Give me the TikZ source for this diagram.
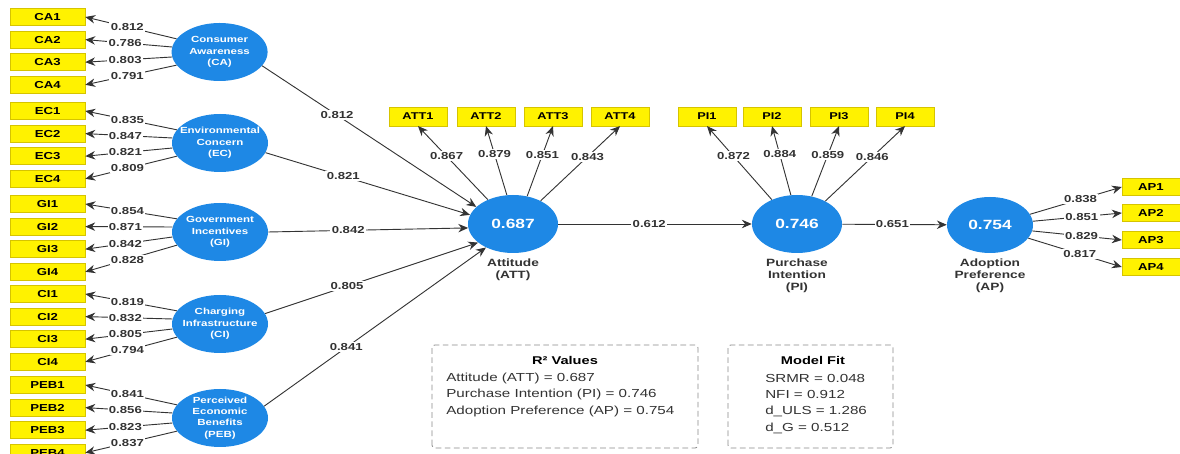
\documentclass[tikz,border=0pt]{standalone}
\usepackage{fontspec}
\setmainfont{Liberation Sans}[FakeStretch=1.3]
\usetikzlibrary{arrows.meta, positioning, shapes.geometric}
\definecolor{c1}{HTML}{333333}
\definecolor{c2}{HTML}{1E88E5}
\definecolor{c3}{HTML}{FFF200}
\definecolor{c4}{HTML}{D6C400}
\definecolor{framecolor}{HTML}{8A8A8A}

\begin{document}
\begin{tikzpicture}[
    ind/.style={draw=c4, fill=c3, line width=0.3pt, minimum width=1.875cm, minimum height=0.425cm,
        inner sep=0pt, font=\bfseries\fontsize{7.2}{8}\selectfont},
    indtop/.style={ind, minimum width=1.45cm, minimum height=0.475cm, font=\bfseries\fontsize{7}{8}\selectfont},
    apbox/.style={ind, minimum width=1.45cm},
    con/.style={ellipse, fill=c2, minimum width=2.4cm, minimum height=1.45cm, inner sep=0pt},
    ctext/.style={text=white, align=center, inner sep=0pt, font=\bfseries\fontsize{6.3}{8.1}\selectfont},
    endo/.style={ellipse, fill=c2, minimum width=2.25cm, minimum height=1.45cm, inner sep=0pt,
        text=white, font=\bfseries\fontsize{9.5}{11}\selectfont},
    conlab/.style={text=c1, align=center, inner sep=0pt, font=\bfseries\fontsize{7.5}{8.5}\selectfont},
    load/.style={draw=c1, line width=0.65pt, -{Stealth[length=7pt, width=6pt]}},
    val/.style={fill=white, inner sep=1pt, text=c1, font=\bfseries\fontsize{7.2}{8}\selectfont},
    boxhead/.style={text=black, inner sep=0pt, font=\bfseries\fontsize{8}{9}\selectfont},
    boxline/.style={text=c1, anchor=west, inner sep=0pt, font=\fontsize{8.3}{9.6}\selectfont},
    frame/.style={draw=framecolor, line width=0.6pt, dash pattern=on 4pt off 2.5pt, rounded corners=2pt},
]
\useasboundingbox (0, 0) rectangle (29.5, 11.35);
\fill[white] (0, 0) rectangle (29.5, 11.35);

% ---------------------------------------------------------------- exogenous constructs
\node[con, label={[ctext]center:Consumer\\Awareness\\(CA)}] (CA) at (5.49, 10.05) {};
\node[con, label={[ctext]center:Environmental\\Concern\\(EC)}] (EC) at (5.50, 7.775) {};
\node[con, label={[ctext]center:Government\\Incentives\\(GI)}] (GI) at (5.50, 5.55) {};
\node[con, label={[ctext]center:Charging\\Infrastructure\\(CI)}] (CI) at (5.50, 3.25) {};
\node[con, label={[ctext]center:Perceived\\Economic\\Benefits\\(PEB)}] (PEB) at (5.50, 0.90) {};

% indicator column
\foreach \g/\y in {CA/10.925, EC/8.575, GI/6.25, CI/4.00, PEB/1.725}{
    \foreach \i in {1,...,4}{
        \node[ind] (\g\i) at (1.19, {\y-(\i-1)*0.565}) {\g\i};
    }
}
\foreach \g/\la/\lb/\lc/\ld in {CA/0.812/0.786/0.803/0.791, EC/0.835/0.847/0.821/0.809,
        GI/0.854/0.871/0.842/0.828, CI/0.819/0.832/0.805/0.794, PEB/0.841/0.856/0.823/0.837}{
    \draw[load] (\g.163) -- node[val, pos=0.54] {\la} (\g1.east);
    \draw[load] (\g.174) -- node[val, pos=0.54] {\lb} (\g2.east);
    \draw[load] (\g.186) -- node[val, pos=0.54] {\lc} (\g3.east);
    \draw[load] (\g.197) -- node[val, pos=0.54] {\ld} (\g4.east);
}

% ---------------------------------------------------------------- endogenous constructs
\node[endo] (ATT) at (12.825, 5.75) {0.687};
\node[endo] (PI) at (19.925, 5.75) {0.746};
\node[endo, minimum width=2.15cm, minimum height=1.40cm] (AP) at (24.75, 5.725) {0.754};

\node[conlab, below=4pt of ATT] (ATTlab) {Attitude\\(ATT)};
\node[conlab, below=4pt of PI] (PIlab) {Purchase\\Intention\\(PI)};
\node[conlab, below=4pt of AP] (APlab) {Adoption\\Preference\\(AP)};

\foreach \n/\x in {1/10.45, 2/12.15, 3/13.825, 4/15.50}{
    \node[indtop] (ATT\n) at (\x, 8.44) {ATT\n};
}
\foreach \n/\x in {1/17.675, 2/19.30, 3/20.975, 4/22.625}{
    \node[indtop] (PI\n) at (\x, 8.44) {PI\n};
}
\foreach \n/\y in {1/6.675, 2/6.025, 3/5.35, 4/4.675}{
    \node[apbox] (AP\n) at (28.775, \y) {AP\n};
}

\foreach \n/\a/\v in {1/136/0.867, 2/102/0.879, 3/63/0.851, 4/40/0.843}{
    \draw[load] (ATT.\a) -- node[val, pos=0.59] {\v} (ATT\n.south);
}
\foreach \n/\a/\v in {1/136/0.872, 2/102/0.884, 3/62/0.859, 4/39/0.846}{
    \draw[load] (PI.\a) -- node[val, pos=0.59] {\v} (PI\n.south);
}
\foreach \n/\a/\v in {1/15/0.838, 2/5/0.851, 3/-8/0.829, 4/-19/0.817}{
    \draw[load] (AP.\a) -- node[val, pos=0.55] {\v} (AP\n.west);
}

% ---------------------------------------------------------------- structural paths
\draw[load] (CA.-18) -- node[val, pos=0.35] {0.812} (ATT.155);
\draw[load] (EC.-12) -- node[val, pos=0.38] {0.821} (ATT.168);
\draw[load] (GI.0) -- node[val, pos=0.40] {0.842} (ATT.185);
\draw[load] (CI.13) -- node[val, pos=0.385] {0.805} (ATT.208);
\draw[load] (PEB.15) -- node[val, pos=0.37] {0.841} (ATT.221);
\draw[load] (ATT) -- node[val, pos=0.47] {0.612} (PI);
\draw[load] (PI) -- node[val, pos=0.48] {0.651} (AP);

% ---------------------------------------------------------------- fit summaries
\draw[frame] (10.80, 0.15) rectangle (17.45, 2.725);
\node[boxhead] (r2head) at (14.125, 2.35) {R² Values};
\node[boxline] (r2att) at (11.15, 1.90) {Attitude (ATT) = 0.687};
\node[boxline] (r2pi) at (11.15, 1.49) {Purchase Intention (PI) = 0.746};
\node[boxline] (r2ap) at (11.15, 1.075) {Adoption Preference (AP) = 0.754};

\draw[frame] (18.20, 0.15) rectangle (22.325, 2.725);
\node[boxhead] (fithead) at (20.325, 2.35) {Model Fit};
\node[boxline] (srmr) at (19.125, 1.90) {SRMR = 0.048};
\node[boxline] (nfi) at (19.125, 1.49) {NFI = 0.912};
\node[boxline] (duls) at (19.125, 1.075) {d\_ULS = 1.286};
\node[boxline] (dg) at (19.125, 0.65) {d\_G = 0.512};

\end{tikzpicture}
\end{document}
